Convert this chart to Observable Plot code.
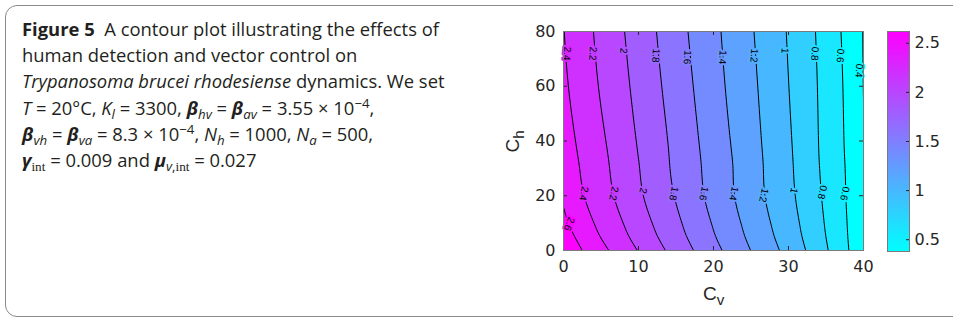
<!DOCTYPE html>
<html><head><meta charset="utf-8">
<script src="https://cdn.jsdelivr.net/npm/d3@7"></script>
<script src="https://cdn.jsdelivr.net/npm/@observablehq/plot@0.6"></script>
<style>
body{margin:0;background:#fff;}
#wrap{position:relative;width:953px;height:321px;overflow:hidden;background:#fff;}
#box{position:absolute;left:5px;top:5px;width:1000px;height:310px;border:1px solid #8a8a8a;border-radius:12px;}
#main{position:absolute;left:0;top:0;}
#cbar{position:absolute;left:877px;top:0;}
#cap{position:absolute;left:22px;top:16px;font-family:"Open Sans",sans-serif;font-size:18.4px;line-height:26.2px;color:#231f20;white-space:nowrap;}
#cap sub,#cap sup{font-size:0.72em;line-height:0;}
#cap sub{vertical-align:-0.3em;}
#cap sup{vertical-align:0.55em;}
.serif{font-family:"Liberation Serif",serif;font-style:normal;}
.axlab{position:absolute;font-family:"Liberation Sans",Arial,sans-serif;font-size:19px;color:#262626;white-space:nowrap;line-height:1;}
.axlab sub{font-size:0.8em;vertical-align:-0.35em;line-height:0;}
</style>
</head><body>
<div id="wrap">
  <div id="box"></div>
  <div id="main"></div>
  <div id="cbar"></div>
  <div id="cap"><b>Figure 5</b>&nbsp; A contour plot illustrating the effects of<br>human detection and vector control on<br><i>Trypanosoma brucei rhodesiense</i> dynamics. We set<br><i>T</i> = 20°C, <i>K<sub>l</sub></i> = 3300, <b><i>β</i></b><sub><i>hv</i></sub> = <b><i>β</i></b><sub><i>av</i></sub> = 3.55 × 10<sup>−4</sup>,<br><b><i>β</i></b><sub><i>vh</i></sub> = <b><i>β</i></b><sub><i>va</i></sub> = 8.3 × 10<sup>−4</sup>, <i>N<sub>h</sub></i> = 1000, <i>N<sub>a</sub></i> = 500,<br><b><i>γ</i></b><sub class="serif">int</sub> = 0.009 and <b><i>μ</i></b><sub><i>v</i>,<span class="serif">int</span></sub> = 0.027</div>
  <div class="axlab" id="xlab" style="left:703px;top:284px;">C<sub>v</sub></div>
  <div class="axlab" id="ylab" style="left:501px;top:132px;transform:rotate(-90deg);transform-origin:center;">C<sub>h</sub></div>
</div>
<script>
// ---- data ----
const xTicks = [0, 10, 20, 30, 40];
const yTicks = [0, 20, 40, 60, 80];
const cbTicks = [0.5, 1, 1.5, 2, 2.5];
const colorMin = 0.38, colorMax = 2.62;

// Ch rows at which the contour crossings (Cv) were read
const chRows = [0, 5, 10, 20, 30, 40, 60, 80];
const cv24 = [6.05, 4.9, 4.07, 2.75, 2.15, 1.6, 0.65, 0.1];
const cv22 = [9.85, 8.75, 7.96, 6.7, 6.15, 5.65, 4.65, 4.0];
const cv20 = [13.6, 12.57, 11.83, 10.65, 10.15, 9.7, 8.85, 8.15];
const cv18 = [17.35, 16.44, 15.79, 14.75, 14.2, 13.9, 13.1, 12.4];
const cv16 = [21.15, 20.31, 19.71, 18.75, 18.4, 18.05, 17.3, 16.6];
const cv14 = [24.95, 24.2, 23.66, 22.8, 22.6, 22.25, 21.55, 21.0];
const cv12 = [28.8, 28.12, 27.63, 26.85, 26.65, 26.4, 25.9, 25.4];
const cv10 = [32.3, 31.81, 31.46, 30.9, 30.65, 30.45, 30.05, 29.7];
const cv08 = [35.3, 34.99, 34.76, 34.4, 34.15, 34.0, 33.85, 33.6];
const cv06 = [38.05, 37.91, 37.81, 37.65, 37.55, 37.4, 37.25, 37.0];
// partial contours
const ch26 = [0, 5, 10, 15.8];
const cv26 = [2.5, 1.5, 0.65, 0];
const ch04 = [55, 60, 70, 80];
const cv04 = [40, 39.97, 39.93, 39.9];

// contour label positions
const labLevelsTop = [2.4, 2.2, 2.0, 1.8, 1.6, 1.4, 1.2, 1.0, 0.8, 0.6, 0.4];
const labCvTop = [0.45, 3.9, 8.0, 12.3, 16.5, 21.2, 25.4, 29.5, 33.5, 36.9, 39.4];
const labChTop = [71.9, 71.9, 73, 71.2, 70.6, 70.6, 71.2, 73, 71.9, 71.2, 65.7];
const labLevelsBot = [2.4, 2.2, 2.0, 1.8, 1.6, 1.4, 1.2, 1.0, 0.8, 0.6];
const labCvBot = [2.7, 6.7, 10.6, 14.7, 18.7, 22.7, 26.7, 30.7, 34.5, 37.5];
const labChBot = [20.8, 20.8, 21.9, 20.8, 20.8, 20.8, 20.2, 21.9, 21.3, 20.8];
const lab26 = {level: 2.6, cv: 0.75, ch: 9.7};

// ---- build tables ----
const fullLines = [[0.6, cv06], [0.8, cv08], [1.0, cv10], [1.2, cv12], [1.4, cv14], [1.6, cv16], [1.8, cv18], [2.0, cv20], [2.2, cv22], [2.4, cv24]];
const contourRows = [];
for (const [level, arr] of fullLines) arr.forEach((cv, i) => contourRows.push({level, ch: chRows[i], cv}));
cv26.forEach((cv, i) => contourRows.push({level: 2.6, ch: ch26[i], cv}));
const line04 = cv04.map((cv, i) => ({level: 0.4, ch: ch04[i], cv}));
const labTop = labLevelsTop.map((level, i) => ({level, cv: labCvTop[i], ch: labChTop[i]}));
const labBot = labLevelsBot.map((level, i) => ({level, cv: labCvBot[i], ch: labChBot[i]}));

const color = {type: "linear", domain: [colorMin, colorMax], range: ["#00ffff", "#ff00ff"], interpolate: "rgb"};
const fmt = d => String(+d.toFixed(1));
const axisStyle = {fontFamily: "'DejaVu Sans', sans-serif", fontSize: "16px", color: "#262626", background: "transparent", overflow: "visible"};
const labFont = "'Liberation Sans', Arial, sans-serif";

const main = Plot.plot({
  width: 953, height: 321,
  marginLeft: 563, marginRight: 90, marginTop: 31, marginBottom: 71,
  x: {domain: [0, 40], ticks: xTicks, label: null},
  y: {domain: [0, 80], ticks: yTicks, label: null},
  color,
  style: axisStyle,
  marks: [
    Plot.frame({fill: "#00ffff"}),
    Plot.areaX(contourRows, {x1: 0, x2: "cv", y: "ch", z: "level", fill: "level", curve: "natural", clip: true}),
    Plot.line(contourRows, {x: "cv", y: "ch", z: "level", stroke: "#000", strokeWidth: 1, curve: "natural", clip: true}),
    Plot.line(line04, {x: "cv", y: "ch", stroke: "#000", strokeWidth: 1, curve: "natural", clip: true}),
    Plot.text(labTop, {x: "cv", y: "ch", text: d => fmt(d.level), rotate: 94, fill: "#000", stroke: d => d.level - 0.1, strokeWidth: 4, fontSize: 10, fontFamily: labFont}),
    Plot.text(labBot, {x: "cv", y: "ch", text: d => fmt(d.level), rotate: 102, fill: "#000", stroke: d => d.level - 0.1, strokeWidth: 4, fontSize: 10, fontFamily: labFont}),
    Plot.text([lab26], {x: "cv", y: "ch", text: d => fmt(d.level), rotate: 112, fill: "#000", stroke: d => d.level, strokeWidth: 4, fontSize: 10, fontFamily: labFont}),
    Plot.ruleX(xTicks, {x: d => d, insetTop: 215, stroke: "#262626"}),
    Plot.ruleX(xTicks, {x: d => d, insetBottom: 215, stroke: "#262626"}),
    Plot.ruleY(yTicks, {y: d => d, insetRight: 296, stroke: "#262626"}),
    Plot.ruleY(yTicks, {y: d => d, insetLeft: 296, stroke: "#262626"}),
    Plot.axisX({ticks: xTicks, tickSize: 0, tickPadding: 10, label: null}),
    Plot.axisY({ticks: yTicks, tickSize: 0, tickPadding: 8, label: null}),
    Plot.frame({stroke: "#7a7a7a"})
  ]
});
document.getElementById("main").append(main);

const cbar = Plot.plot({
  width: 76, height: 321,
  marginLeft: 10, marginRight: 44, marginTop: 31, marginBottom: 70,
  x: {domain: [0, 1], axis: null},
  y: {domain: [colorMin, colorMax], axis: null},
  color,
  style: axisStyle,
  marks: [
    Plot.raster({fill: (x, y) => y, x1: 0, x2: 1, y1: colorMin, y2: colorMax}),
    Plot.ruleY(cbTicks, {y: d => d, insetLeft: 19, stroke: "#262626"}),
    Plot.axisY({anchor: "right", ticks: cbTicks, tickSize: 0, tickPadding: 5, tickFormat: d => String(d), label: null}),
    Plot.frame({stroke: "#7a7a7a"})
  ]
});
document.getElementById("cbar").append(cbar);
</script>
</body></html>
